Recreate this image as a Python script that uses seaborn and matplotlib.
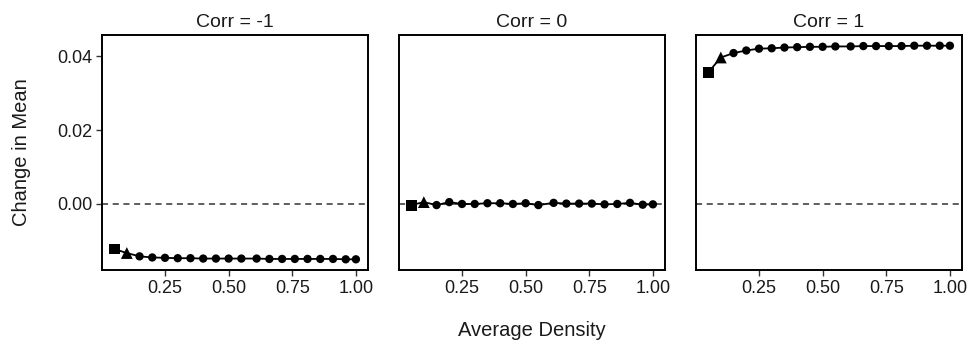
import pandas as pd
import matplotlib
matplotlib.use("Agg")
import matplotlib.pyplot as plt
import seaborn as sns

# x positions (average density) shared by all panels
density = [0.05, 0.10, 0.15, 0.20, 0.25, 0.30, 0.35, 0.40, 0.45, 0.50,
           0.55, 0.61, 0.66, 0.71, 0.76, 0.81, 0.86, 0.91, 0.96, 1.00]
point_type = ["first", "second"] + ["rest"] * 18

corr_labels = ["Corr = -1", "Corr = 0", "Corr = 1"]

change_neg = [-0.0122, -0.0133, -0.0142, -0.0145, -0.0146, -0.0147, -0.0147,
              -0.0148, -0.0148, -0.0148, -0.0148, -0.0148, -0.0149, -0.0149,
              -0.0149, -0.0149, -0.0149, -0.0149, -0.0150, -0.0150]
change_zero = [-0.0003, 0.0005, -0.0003, 0.0005, 0.0000, 0.0000, 0.0002,
               0.0002, 0.0000, 0.0002, -0.0003, 0.0003, 0.0001, 0.0001,
               0.0001, -0.0001, 0.0000, 0.0003, -0.0002, -0.0001]
change_pos = [0.0356, 0.0397, 0.0409, 0.0416, 0.0421, 0.0422, 0.0424,
              0.0425, 0.0426, 0.0426, 0.0427, 0.0427, 0.0428, 0.0428,
              0.0428, 0.0428, 0.0429, 0.0429, 0.0429, 0.0429]

rows = []
for lab, vals in zip(corr_labels, [change_neg, change_zero, change_pos]):
    for d, v, t in zip(density, vals, point_type):
        rows.append({"corr": lab, "density": d, "change": v, "ptype": t})
df = pd.DataFrame(rows)

sns.set_style("white")
plt.rcParams['font.family'] = ['Liberation Sans', 'DejaVu Sans']

g = sns.FacetGrid(df, col="corr", col_order=corr_labels, sharey=True,
                  height=3.5, aspect=975 / 350 / 3, despine=False)
g.map_dataframe(sns.lineplot, x="density", y="change", color="black",
                linewidth=1.3)
g.map_dataframe(sns.scatterplot, x="density", y="change", style="ptype",
                style_order=["first", "second", "rest"],
                markers={"first": "s", "second": "^", "rest": "o"},
                size="ptype", sizes={"first": 62, "second": 72, "rest": 36},
                color="black", edgecolor="black", linewidth=0, legend=False)
g.fig.set_size_inches(9.75, 3.5)

for i, (ax, lab) in enumerate(zip(g.axes.flat, corr_labels)):
    ax.axhline(0, color="#333333", linestyle=(0, (4, 3)), linewidth=1.1,
               zorder=0)
    ax.set_xlim(0.0025, 1.0475)
    ax.set_ylim(-0.0179, 0.0458)
    ax.set_xticks([0.25, 0.50, 0.75, 1.00])
    ax.set_xticklabels(["0.25", "0.50", "0.75", "1.00"])
    ax.set_yticks([0.00, 0.02, 0.04])
    ax.set_yticklabels(["0.00", "0.02", "0.04"])
    ax.set_title(lab, fontsize=14, pad=6, color="#1a1a1a")
    ax.set_xlabel("")
    ax.set_ylabel("")
    ax.tick_params(axis="both", length=4, width=1, color="#333333",
                   labelsize=13, labelcolor="#1a1a1a", direction="out",
                   bottom=True, left=(i == 0), pad=3)
    for s in ax.spines.values():
        s.set_color("black")
        s.set_linewidth(1.4)

g.fig.subplots_adjust(left=102 / 975, right=962 / 975, bottom=1 - 270 / 350,
                      top=1 - 35 / 350, wspace=31 / 266)
g.fig.supxlabel("Average Density", fontsize=14.5, x=(102 + 962) / 2 / 975,
                y=0.03, color="#1a1a1a")
g.fig.supylabel("Change in Mean", fontsize=14.5, x=0.012,
                y=(1 - (35 + 270) / 2 / 350), color="#1a1a1a")

g.fig.savefig("out.png", dpi=100)
